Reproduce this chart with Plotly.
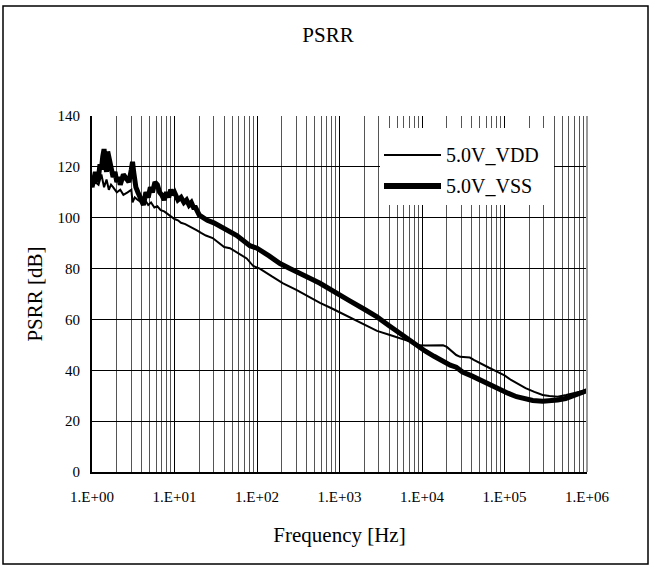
import plotly.graph_objects as go

# ---- data ----
freq_vdd = [1.0, 1.1, 1.2, 1.3, 1.4, 1.5, 1.6, 1.7, 1.8, 2.0, 2.2, 2.4, 2.7, 3.0, 3.1, 3.3, 3.6,
            4.0, 4.4, 4.8, 5.2, 5.7, 6.2, 6.8, 7.5, 8.3, 9.2, 10, 11, 12, 13.5, 15.4, 17, 18.7,
            21, 24, 29, 35, 40, 47, 60, 75, 90, 108, 150, 207, 300, 420, 580, 800, 1000, 1400,
            2000, 2850, 4000, 5400, 7200, 7800, 9000, 1.1e4, 1.4e4, 1.8e4, 2e4, 2.3e4, 2.6e4,
            2.9e4, 3.3e4, 3.8e4, 4.3e4, 5e4, 6.5e4, 8.1e4, 1e5, 1.2e5, 1.5e5, 1.8e5, 2.3e5,
            2.9e5, 3.5e5, 4.4e5, 5.6e5, 7e5, 8.2e5, 1e6, 1.3e6]
psrr_vdd = [112, 114, 113, 117, 112, 115, 111, 113, 112, 110, 111, 109, 110, 111, 106, 108, 107,
            106, 107, 105, 106, 104, 104.5, 103, 102.5, 101.5, 100.5, 99.5, 99, 98, 97.5, 96.5,
            96, 95, 94, 93, 92, 90, 88.5, 88, 86, 84, 81, 80, 77, 74.2, 71.6, 69, 66.5, 64.4,
            62.8, 60.3, 58, 55.5, 54, 52.7, 51.3, 50.3, 49.8, 49.7, 49.7, 49.8, 49.2, 47.5, 46,
            45.3, 45.2, 45, 44, 42.8, 41, 39.5, 38, 36.2, 34.5, 33, 31.5, 30.3, 29.9, 29.6, 30.3,
            31, 31.5, 32.3, 33.8]

freq_vss = [1.0, 1.05, 1.1, 1.15, 1.2, 1.25, 1.3, 1.35, 1.4, 1.45, 1.5, 1.55, 1.6, 1.7, 1.8,
            1.9, 2.0, 2.1, 2.2, 2.4, 2.6, 2.8, 3.0, 3.1, 3.2, 3.4, 3.6, 3.9, 4.2, 4.5, 4.8, 5.1,
            5.4, 5.8, 6.2, 6.6, 7.0, 7.5, 8.0, 8.5, 9.0, 9.5, 10, 11, 12, 13, 14, 15, 16, 17,
            18, 20, 22, 25, 30, 40, 57, 82, 100, 140, 190, 250, 305, 360, 450, 580, 750, 930,
            1300, 2000, 2850, 4000, 5400, 7200, 8600, 1.1e4, 1.4e4, 1.8e4, 2.2e4, 2.6e4, 3.1e4,
            4e4, 5e4, 6.5e4, 8.9e4, 1.1e5, 1.4e5, 1.8e5, 2.2e5, 2.9e5, 3.5e5, 4.4e5, 5.5e5,
            6.3e5, 8e5, 1e6, 1.3e6]
psrr_vss = [112, 115, 118, 114, 116, 121, 119, 124, 127, 121, 118, 126, 124, 119, 116, 118, 114,
            116, 113, 117, 115, 114, 119, 122, 118, 112, 110, 107, 105, 110, 108, 112, 110, 114,
            113, 110, 109, 107, 110, 108, 111, 109, 110, 107, 108, 106, 107, 105, 106, 104, 104,
            101, 100, 99, 98, 96, 93, 89, 88, 85, 82, 80, 78.5, 77.5, 76, 74.2, 72.2, 70.4, 67.5,
            64, 61, 57.5, 54.5, 51.5, 49.5, 47.5, 45.5, 43.5, 42, 41.2, 39.3, 37.8, 36.2, 34.5,
            32.3, 31, 29.6, 28.7, 28.1, 27.8, 27.9, 28.3, 28.9, 29.6, 30.5, 31.5, 33.4]

x_tickvals = [1, 10, 100, 1e3, 1e4, 1e5, 1e6]
x_ticktext = ["1.E+00", "1.E+01", "1.E+02", "1.E+03", "1.E+04", "1.E+05", "1.E+06"]
series_names = ["5.0V_VDD", "5.0V_VSS"]
series_widths = [2, 6]

FONT = "Liberation Serif"

fig = go.Figure()
fig.add_trace(go.Scatter(x=freq_vdd, y=psrr_vdd, mode="lines", name=series_names[0],
                         line=dict(color="black", width=series_widths[0]), showlegend=False))
fig.add_trace(go.Scatter(x=freq_vss, y=psrr_vss, mode="lines", name=series_names[1],
                         line=dict(color="black", width=5), showlegend=False))

W, H = 651, 566
L, R, T, B = 92, 64, 116, 94
pw, ph = W - L - R, H - T - B

def px(xp):
    return (xp - L) / pw

def py(yp):
    return (H - B - yp) / ph

fig.update_layout(
    width=W, height=H, autosize=False,
    margin=dict(l=L, r=R, t=T, b=B, pad=0),
    paper_bgcolor="white", plot_bgcolor="white",
    font=dict(family=FONT, color="black", size=15),
    title=dict(text="PSRR", x=328 / W, xref="container", xanchor="center",
               y=1 - 35 / H, yref="container", yanchor="middle",
               font=dict(family=FONT, size=21, color="black")),
    showlegend=False,
)

fig.update_xaxes(
    type="log", range=[0, 6],
    tickvals=x_tickvals, ticktext=x_ticktext,
    showgrid=True, gridcolor="black", gridwidth=1,
    minor=dict(dtick="D1", showgrid=True, gridcolor="#555555", gridwidth=1, ticks=""),
    showline=True, linecolor="black", linewidth=2,
    ticks="", ticklabelstandoff=10,
    tickfont=dict(family=FONT, size=15),
    title=dict(text="Frequency [Hz]", font=dict(family=FONT, size=21), standoff=23),
    zeroline=False,
)
fig.update_yaxes(
    range=[0, 140], dtick=20, tick0=0,
    showgrid=True, gridcolor="black", gridwidth=1,
    showline=True, linecolor="black", linewidth=2,
    ticks="", ticklabelstandoff=7,
    tickfont=dict(family=FONT, size=15),
    title=dict(text="PSRR [dB]", font=dict(family=FONT, size=21), standoff=9),
    zeroline=False,
)

# grey right border of plot area
fig.add_shape(type="line", xref="paper", yref="paper", x0=1, x1=1, y0=0, y1=1,
              line=dict(color="#9a9a9a", width=2))

# legend box (white, borderless) with line samples and labels
fig.add_shape(type="rect", xref="paper", yref="paper",
              x0=px(380), x1=px(554), y0=py(205), y1=py(128),
              line=dict(width=0), fillcolor="white", layer="above")
legend_rows_y = [155, 186]
for name, wdt, yrow in zip(series_names, series_widths, legend_rows_y):
    fig.add_shape(type="line", xref="paper", yref="paper",
                  x0=px(384), x1=px(441), y0=py(yrow), y1=py(yrow),
                  line=dict(color="black", width=wdt), layer="above")
    fig.add_annotation(xref="paper", yref="paper", x=px(444), y=py(yrow),
                       xanchor="left", yanchor="middle", showarrow=False,
                       text=name, font=dict(family=FONT, size=20, color="black"))

# outer chart border
fig.add_shape(type="rect", xref="paper", yref="paper",
              x0=px(3), x1=px(648), y0=py(564), y1=py(6),
              line=dict(color="black", width=1.5), fillcolor="rgba(0,0,0,0)", layer="above")

fig.write_html("out.html", config={"displayModeBar": False},
               post_script="document.body.style.margin='0px';")
